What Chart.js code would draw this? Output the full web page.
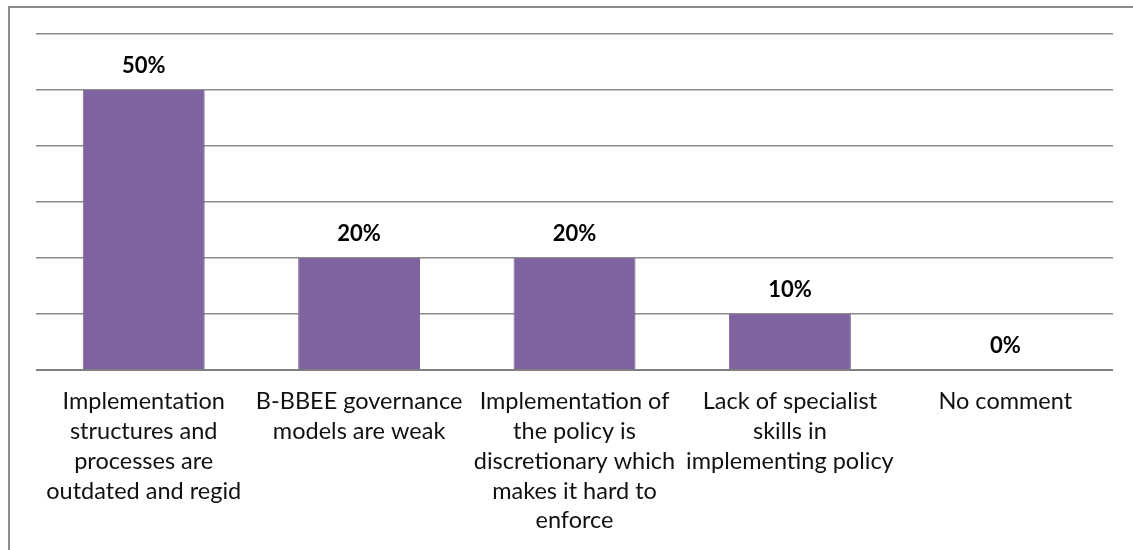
<!DOCTYPE html>
<html>
<head>
<meta charset="utf-8">
<script src="https://cdn.jsdelivr.net/npm/chart.js@4"></script>
<style>
    html, body { margin: 0; padding: 0; background: #fff; }
    .frame {
        position: absolute;
        left: 8px;
        top: 6px;
        width: 1200px;
        height: 600px;
        border-top: 2px solid #8c8c8c;
        border-left: 2px solid #8c8c8c;
    }
    #chart-wrap { position: absolute; left: 0; top: 0; width: 1133px; height: 550px; }
</style>
</head>
<body>
<div class="frame"></div>
<div id="chart-wrap"><canvas id="bar-chart" width="1133" height="550"></canvas></div>
<script>
// 類別與數值
const categories = [
    ['Implementation', 'structures and', 'processes are', 'outdated and regid'],
    ['B-BBEE governance', 'models are weak'],
    ['Implementation of', 'the policy is', 'discretionary which', 'makes it hard to', 'enforce'],
    ['Lack of specialist', 'skills in', 'implementing policy'],
    ['No comment']
];
const percentages = [50, 20, 20, 10, 0];
const yTicks = [0, 10, 20, 30, 40, 50, 60];

const FONT = 'Lato, Calibri, "Open Sans", sans-serif';

// 長條陰影
const barShadow = {
    id: 'barShadow',
    beforeDatasetDraw(chart) {
        const ctx = chart.ctx;
        ctx.save();
        ctx.shadowColor = 'rgba(0, 0, 0, 0.22)';
        ctx.shadowBlur = 4;
        ctx.shadowOffsetX = 1;
        ctx.shadowOffsetY = 1;
    },
    afterDatasetDraw(chart) {
        chart.ctx.restore();
    }
};

// 長條上方的百分比標籤
const valueLabels = {
    id: 'valueLabels',
    afterDatasetsDraw(chart) {
        const ctx = chart.ctx;
        const meta = chart.getDatasetMeta(0);
        ctx.save();
        ctx.font = 'bold 22px ' + FONT;
        ctx.fillStyle = '#000';
        ctx.textAlign = 'center';
        ctx.textBaseline = 'middle';
        meta.data.forEach((bar, i) => {
            ctx.fillText(percentages[i] + '%', bar.x, bar.y - 24);
        });
        ctx.restore();
    }
};

const ctx = document.getElementById('bar-chart').getContext('2d');
new Chart(ctx, {
    type: 'bar',
    data: {
        labels: categories,
        datasets: [{
            data: percentages,
            backgroundColor: '#7f63a1',
            borderColor: '#8a70a8',
            borderWidth: 1,
            categoryPercentage: 1,
            barPercentage: 0.566
        }]
    },
    options: {
        responsive: false,
        animation: false,
        events: [],
        layout: {
            padding: { left: 36, right: 20, top: 34, bottom: 0 }
        },
        plugins: {
            legend: { display: false },
            tooltip: { enabled: false }
        },
        scales: {
            x: {
                grid: { display: false, drawTicks: false },
                border: { display: false },
                ticks: {
                    color: '#111',
                    padding: 17,
                    maxRotation: 0,
                    autoSkip: false,
                    font: { family: FONT, size: 23.5, lineHeight: 1.265 }
                },
                afterFit: s => { s.height = 180; }
            },
            y: {
                min: 0,
                max: 60,
                afterBuildTicks: s => { s.ticks = yTicks.map(v => ({ value: v })); },
                ticks: { display: false },
                grid: {
                    color: ctx => ctx.tick && ctx.tick.value === 0 ? '#7f7f7f' : '#8c8c8c',
                    lineWidth: ctx => ctx.tick && ctx.tick.value === 0 ? 2 : 1.5,
                    drawTicks: false
                },
                border: { display: false },
                afterFit: s => { s.width = 0; }
            }
        }
    },
    plugins: [barShadow, valueLabels]
});
</script>
</body>
</html>
